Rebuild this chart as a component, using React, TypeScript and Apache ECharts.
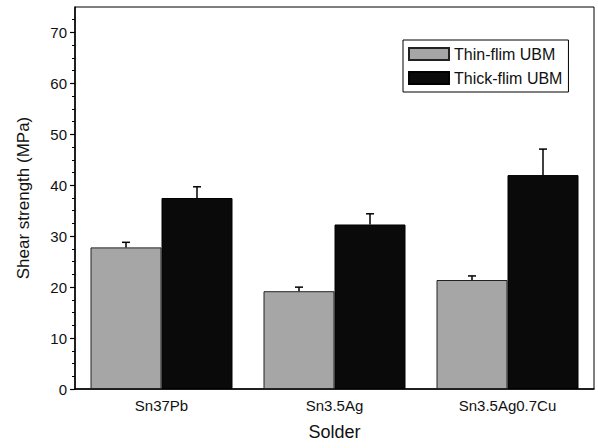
import React, { useEffect, useRef } from "react";
import * as echarts from "echarts";

const categories = ["Sn37Pb", "Sn3.5Ag", "Sn3.5Ag0.7Cu"];
const thinValues = [27.8, 19.2, 21.4];
const thinErrors = [1.0, 0.8, 0.8];
const thickValues = [37.5, 32.3, 42.0];
const thickErrors = [2.2, 2.1, 5.1];
const majorTicks = [0, 10, 20, 30, 40, 50, 60, 70];
const minorTicks = [2.5, 5, 7.5, 12.5, 15, 17.5, 22.5, 25, 27.5, 32.5, 35, 37.5, 42.5, 45, 47.5, 52.5, 55, 57.5, 62.5, 65, 67.5, 72.5];

const FONT = "'Liberation Sans', Arial, sans-serif";
const BAR_W = 71;

function errorSeries(name: string, values: number[], errors: number[], side: number) {
  return {
    type: "custom",
    name: name + "-err",
    silent: true,
    z: 5,
    data: values.map((v, i) => [i, v, errors[i]]),
    encode: { x: 0, y: 1 },
    renderItem: (params: any, api: any) => {
      const i = api.value(0);
      const v = api.value(1);
      const e = api.value(2);
      const base = api.coord([i, v]);
      const top = api.coord([i, v + e]);
      const x = base[0] + side * (BAR_W / 2);
      return {
        type: "group",
        children: [
          { type: "line", shape: { x1: x, y1: base[1], x2: x, y2: top[1] }, style: { stroke: "#000", lineWidth: 1.5 } },
          { type: "line", shape: { x1: x - 4, y1: top[1], x2: x + 4, y2: top[1] }, style: { stroke: "#000", lineWidth: 1.5 } },
        ],
      };
    },
  };
}

export default function App() {
  const ref = useRef<HTMLDivElement>(null);
  useEffect(() => {
    if (!ref.current) return;
    const chart = echarts.init(ref.current, null, { renderer: "svg" });
    chart.setOption({
      animation: false,
      backgroundColor: "#fff",
      textStyle: { fontFamily: FONT, color: "#111" },
      grid: { left: 75, right: 4, top: 7, bottom: 59, show: true, borderColor: "#000", borderWidth: 1, containLabel: false },
      legend: {
        orient: "vertical",
        left: 403,
        top: 40,
        data: [
          { name: "Thin-flim UBM", icon: "rect" },
          { name: "Thick-flim UBM", icon: "rect" },
        ],
        itemWidth: 40,
        itemHeight: 12,
        itemGap: 8,
        padding: [6, 6, 6, 5],
        borderColor: "#000",
        borderWidth: 1,
        textStyle: { fontFamily: FONT, fontSize: 16, color: "#111" },
      },
      xAxis: {
        type: "category",
        data: categories,
        name: "Solder",
        nameLocation: "middle",
        nameGap: 34,
        nameTextStyle: { fontFamily: FONT, fontSize: 18, color: "#111" },
        axisLine: { lineStyle: { color: "#000", width: 1.5 } },
        axisTick: { show: false },
        axisLabel: { fontFamily: FONT, fontSize: 15, color: "#111", margin: 9 },
      },
      yAxis: [
        {
          type: "value",
          min: 0,
          max: 75,
          name: "Shear strength (MPa)",
          nameLocation: "middle",
          nameGap: 43,
          nameTextStyle: { fontFamily: FONT, fontSize: 17, color: "#111" },
          axisLine: { show: true, lineStyle: { color: "#000", width: 1.5 } },
          axisTick: { show: true, length: 5, lineStyle: { color: "#000", width: 1.2 }, customValues: majorTicks },
          axisLabel: { fontFamily: FONT, fontSize: 15, color: "#111", margin: 8, customValues: majorTicks },
          splitLine: { show: false },
        },
        {
          type: "value",
          min: 0,
          max: 75,
          position: "left",
          axisLine: { show: false },
          axisTick: { show: true, length: 3, lineStyle: { color: "#000", width: 1 }, customValues: minorTicks },
          axisLabel: { show: false },
          splitLine: { show: false },
        },
      ],
      series: [
        {
          name: "Thin-flim UBM",
          type: "bar",
          data: thinValues,
          barWidth: BAR_W,
          barGap: "0%",
          itemStyle: { color: "#a6a6a6", borderColor: "#222", borderWidth: 1 },
        },
        {
          name: "Thick-flim UBM",
          type: "bar",
          data: thickValues,
          barWidth: BAR_W,
          barGap: "0%",
          itemStyle: { color: "#0a0a0a", borderColor: "#000", borderWidth: 1 },
        },
        errorSeries("thin", thinValues, thinErrors, -1),
        errorSeries("thick", thickValues, thickErrors, 1),
      ],
    });
    return () => chart.dispose();
  }, []);
  return <div ref={ref} style={{ width: 598, height: 448, position: "absolute", left: 0, top: 0 }} />;
}
